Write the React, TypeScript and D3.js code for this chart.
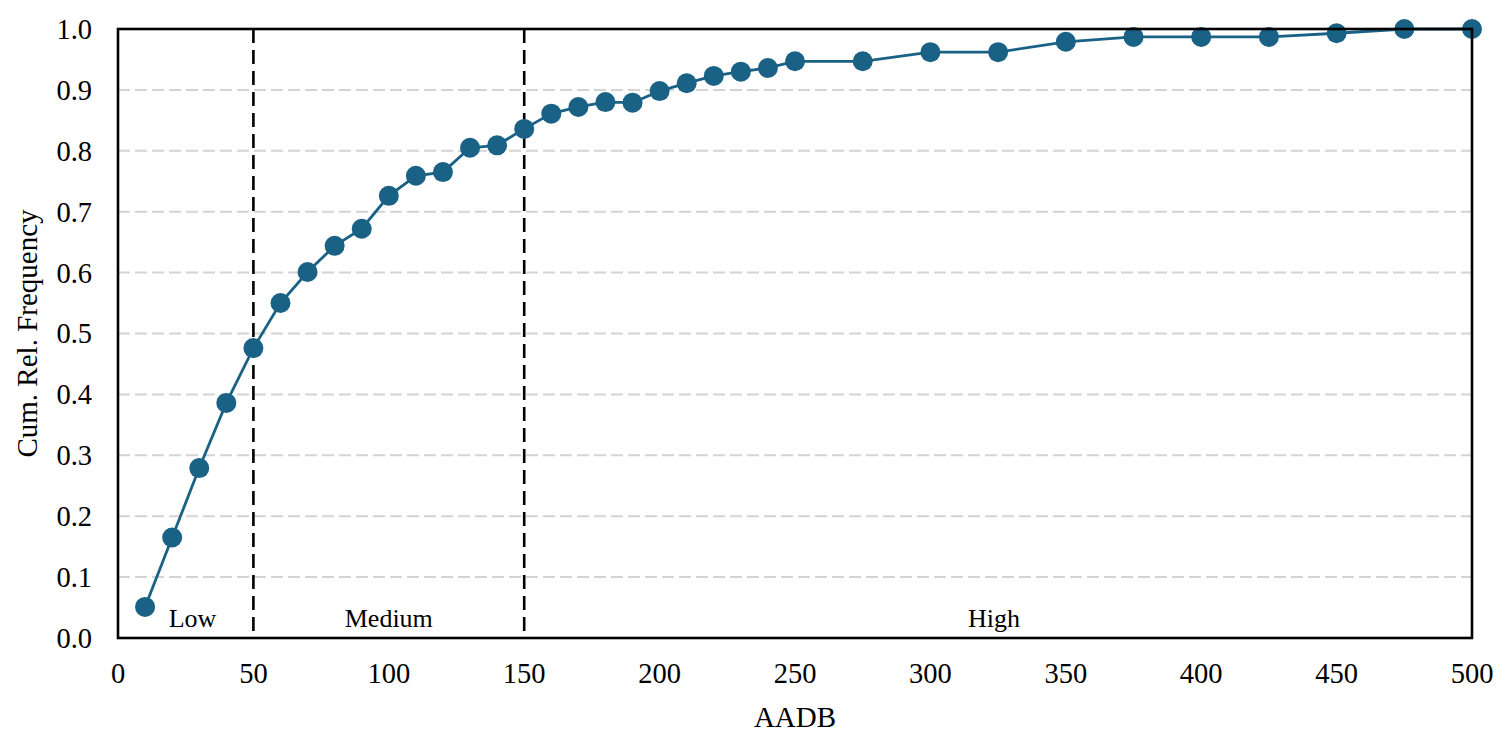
import React, { useEffect, useRef } from "react";
import * as d3 from "d3";

const aadb = [10, 20, 30, 40, 50, 60, 70, 80, 90, 100, 110, 120, 130, 140, 150, 160, 170, 180, 190, 200, 210, 220, 230, 240, 250, 275, 300, 325, 350, 375, 400, 425, 450, 475, 500];
const cumFreq = [0.051, 0.165, 0.279, 0.386, 0.476, 0.550, 0.601, 0.644, 0.672, 0.726, 0.759, 0.765, 0.805, 0.809, 0.836, 0.861, 0.872, 0.880, 0.879, 0.898, 0.911, 0.923, 0.930, 0.936, 0.947, 0.947, 0.962, 0.962, 0.979, 0.987, 0.987, 0.987, 0.993, 1.0, 1.0];
const xTicks = [0, 50, 100, 150, 200, 250, 300, 350, 400, 450, 500];
const yTicks = [0, 0.1, 0.2, 0.3, 0.4, 0.5, 0.6, 0.7, 0.8, 0.9, 1.0];
const thresholds = [50, 150];
const regionLabels = ["Low", "Medium", "High"];
const regionPos = [27.5, 100, 323.5];

const W = 1507;
const H = 739;
const M = { left: 118, right: 1472, top: 29, bottom: 638 };
const COLOR = "#1a6186";
const FONT = "'Liberation Serif', 'Times New Roman', serif";

export default function App() {
  const ref = useRef<SVGSVGElement>(null);
  useEffect(() => {
    const svg = d3.select(ref.current);
    svg.selectAll("*").remove();
    const x = d3.scaleLinear().domain([0, 500]).range([M.left, M.right]);
    const y = d3.scaleLinear().domain([0, 1]).range([M.bottom, M.top]);

    // gridlines
    svg.append("g")
      .selectAll("line")
      .data(yTicks.filter((t) => t > 0 && t < 1))
      .join("line")
      .attr("x1", M.left)
      .attr("x2", M.right)
      .attr("y1", (d) => y(d))
      .attr("y2", (d) => y(d))
      .attr("stroke", "#d4d4d4")
      .attr("stroke-width", 2)
      .attr("stroke-dasharray", "12,5");

    // threshold lines
    svg.append("g")
      .selectAll("line")
      .data(thresholds)
      .join("line")
      .attr("x1", (d) => x(d))
      .attr("x2", (d) => x(d))
      .attr("y1", M.top)
      .attr("y2", M.bottom)
      .attr("stroke", "#000")
      .attr("stroke-width", 2.6)
      .attr("stroke-dasharray", "14,7");

    // line
    const line = d3.line<number>()
      .x((_, i) => x(aadb[i]))
      .y((d) => y(d));
    svg.append("path")
      .datum(cumFreq)
      .attr("d", line)
      .attr("fill", "none")
      .attr("stroke", COLOR)
      .attr("stroke-width", 2.8);

    svg.append("g")
      .selectAll("circle")
      .data(cumFreq)
      .join("circle")
      .attr("cx", (_, i) => x(aadb[i]))
      .attr("cy", (d) => y(d))
      .attr("r", 10)
      .attr("fill", COLOR);

    // frame
    svg.append("rect")
      .attr("x", M.left)
      .attr("y", M.top)
      .attr("width", M.right - M.left)
      .attr("height", M.bottom - M.top)
      .attr("fill", "none")
      .attr("stroke", "#000")
      .attr("stroke-width", 2.6);

    // region labels
    svg.append("g")
      .selectAll("text")
      .data(regionLabels)
      .join("text")
      .attr("x", (_, i) => x(regionPos[i]))
      .attr("y", 627)
      .attr("text-anchor", "middle")
      .attr("font-family", FONT)
      .attr("font-size", 26)
      .attr("fill", "#000")
      .text((d) => d);

    // x tick labels
    svg.append("g")
      .selectAll("text")
      .data(xTicks)
      .join("text")
      .attr("x", (d) => x(d))
      .attr("y", 683)
      .attr("text-anchor", "middle")
      .attr("font-family", FONT)
      .attr("font-size", 28.5)
      .attr("fill", "#000")
      .text((d) => String(d));

    // y tick labels
    svg.append("g")
      .selectAll("text")
      .data(yTicks)
      .join("text")
      .attr("x", 92)
      .attr("y", (d) => y(d))
      .attr("dy", "0.35em")
      .attr("text-anchor", "end")
      .attr("font-family", FONT)
      .attr("font-size", 28.5)
      .attr("fill", "#000")
      .text((d) => d3.format(".1f")(d));

    // axis titles
    svg.append("text")
      .attr("x", x(250))
      .attr("y", 727)
      .attr("text-anchor", "middle")
      .attr("font-family", FONT)
      .attr("font-size", 29)
      .attr("fill", "#000")
      .text("AADB");

    svg.append("text")
      .attr("transform", `translate(37,${(M.top + M.bottom) / 2}) rotate(-90)`)
      .attr("text-anchor", "middle")
      .attr("font-family", FONT)
      .attr("font-size", 29)
      .attr("fill", "#000")
      .text("Cum. Rel. Frequency");
  }, []);

  return (
    <svg
      ref={ref}
      width={W}
      height={H}
      style={{ position: "absolute", left: 0, top: 0, background: "#fff" }}
    />
  );
}
